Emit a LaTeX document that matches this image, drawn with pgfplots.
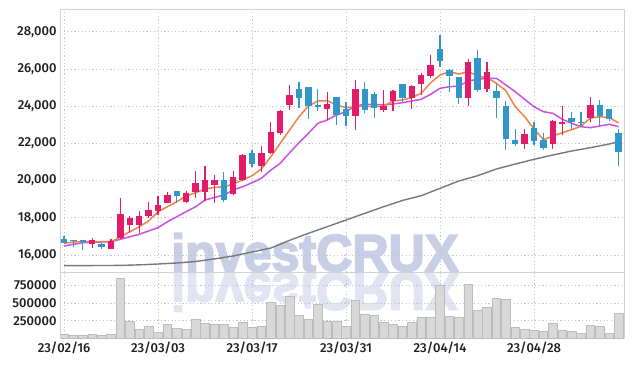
\documentclass[border=0pt]{standalone}
\usepackage{fontspec}
\setmainfont{Fira Sans Medium}
\newfontfamily\wmfont[FakeBold=3.5]{Liberation Sans Bold}
\usepackage{pgfplots}
\usepackage{pgfplotstable}
\pgfplotsset{compat=1.18}

\definecolor{cred}{RGB}{228,27,104}
\definecolor{cblue}{RGB}{51,150,200}
\definecolor{maorange}{RGB}{238,130,70}
\definecolor{mapurple}{RGB}{204,80,232}
\definecolor{magray}{RGB}{120,120,120}
\definecolor{gridc}{RGB}{190,194,218}
\definecolor{framec}{RGB}{210,210,212}
\definecolor{volfill}{RGB}{216,216,216}
\definecolor{voledge}{RGB}{188,188,188}
\definecolor{wm}{RGB}{200,206,228}
\definecolor{wmr}{RGB}{226,228,241}

% up candles (close >= open): i open high low close
\pgfplotstableread{
i o h l c
3 16600 16900 16360 16800
5 16340 16850 16300 16770
6 16900 19080 16850 18200
7 17630 18110 17170 17970
8 17630 18380 17180 18100
9 18110 18860 17970 18420
10 18380 19170 18150 18690
11 18810 19400 18780 19220
13 18830 19440 18800 19320
14 19400 20500 19050 19850
15 19400 20800 18900 20030
16 19760 20300 18780 20030
18 19280 20510 19200 20180
19 20030 21430 19990 21370
21 20800 21870 20480 21470
22 21500 23130 21450 22590
23 22590 23800 22450 23740
24 24060 25140 23790 24600
28 23860 24740 23260 24100
31 23490 25400 22720 24920
34 23790 24870 23700 24020
35 24290 24870 23760 24780
37 24420 25140 23830 25080
38 25190 25800 24600 25670
39 25620 26750 25500 26210
43 24450 26530 24010 26350
45 24920 26350 24740 25820
49 21970 22770 21700 22500
52 21970 23250 21700 23200
53 23080 24010 22450 23150
56 23350 24480 23160 24060
}\uptab

% down candles (close < open)
\pgfplotstableread{
i o h l c
0 16850 17000 16630 16650
1 16800 16820 16420 16760
2 16780 16800 16270 16740
4 16600 16630 16340 16430
12 19440 19440 18780 19190
17 20030 20440 18830 18960
20 21470 21640 20740 20890
25 24920 25320 23880 24450
26 25010 25010 23310 24010
27 24060 24900 23740 23970
29 24470 24470 22990 23520
30 23850 24210 22950 23490
32 24920 25280 23610 23790
33 24650 24780 23350 23910
36 25190 25190 24240 24420
40 27070 27820 26090 26440
41 25940 25990 24780 25640
42 25580 25580 24110 24450
44 26570 27020 24780 24870
46 24810 25170 23350 24450
47 24010 24290 21640 22230
48 22180 22770 21870 21970
50 22810 23160 21910 22140
51 22180 22540 21640 21770
54 23380 23670 22770 23130
55 23150 23670 22900 23110
57 24060 24330 22950 23490
58 23850 23850 23220 23310
59 22570 22760 20780 21520
}\downtab

\pgfplotstableread{
i v
0 16629
1 16699
2 16715
3 16715
4 16715
5 16715
6 16967
7 17252
8 17521
9 17827
10 18327
11 18596
12 18864
13 19171
14 19348
15 19547
16 19627
17 19670
18 19816
19 20031
20 20262
21 20622
22 21283
23 22003
24 22718
25 23432
26 24007
27 24276
28 24292
29 24061
30 23916
31 23970
32 24007
33 23970
34 24007
35 24276
36 24330
37 24464
38 24690
39 25260
40 25673
41 25851
42 25727
43 25851
44 25619
45 25528
46 25227
47 24829
48 23970
49 23432
50 22771
51 22196
52 22395
53 22572
54 22734
55 22916
56 23362
57 23432
58 23389
59 23094
}\maA

\pgfplotstableread{
i v
0 16484
1 16575
2 16661
3 16682
4 16699
5 16715
6 16844
7 16983
8 17112
9 17290
10 17467
11 17790
12 18058
13 18327
14 18596
15 18956
16 19090
17 19224
18 19493
19 19670
20 19885
21 20122
22 20568
23 20928
24 21498
25 22035
26 22540
27 23078
28 23255
29 23524
30 23701
31 24007
32 24099
33 24099
34 24061
35 24115
36 24185
37 24276
38 24367
39 24636
40 24958
41 25045
42 25082
43 25351
44 25442
45 25496
46 25496
47 25136
48 24776
49 24367
50 23970
51 23701
52 23615
53 23293
54 23078
55 22895
56 22841
57 22932
58 23024
59 22895
}\maB

\pgfplotstableread{
i v
0 15425
2 15430
4 15436
6 15440
8 15470
10 15516
12 15570
14 15650
16 15790
18 15946
20 16161
22 16376
24 16790
26 17166
28 17521
30 17881
32 18241
34 18596
36 18930
38 19187
40 19584
42 19977
44 20262
46 20622
48 20890
50 21143
52 21374
54 21589
56 21766
58 21965
59 22089
}\maC

\pgfplotstableread{
i v
0 60000
1 46000
2 46000
3 64000
4 46000
5 64000
6 847000
7 246000
8 132000
9 176000
10 92000
11 204000
12 148000
13 134000
14 272000
15 218000
16 204000
17 204000
18 160000
19 232000
20 162000
21 176000
22 512000
23 470000
24 594000
25 330000
26 274000
27 484000
28 240000
29 240000
30 176000
31 540000
32 344000
33 330000
34 230000
35 204000
36 176000
37 232000
38 302000
39 302000
40 750000
41 316000
42 302000
43 764000
44 400000
45 442000
46 568000
47 554000
48 162000
49 134000
50 120000
51 106000
52 218000
53 120000
54 106000
55 78000
56 190000
57 176000
58 78000
59 358000
}\voltab

\pgfplotsset{
  base/.style={
    scale only axis,
    width=564bp,
    xmin=-0.43, xmax=59.57,
    axis line style={draw=framec, line width=0.8bp},
    major tick length=0pt,
    grid=major,
    major grid style={draw=gridc, line width=0.6bp, dash pattern=on 1.2bp off 2.4bp},
    xtick={0,10,20,30,40,50},
    tick label style={font=\fontsize{13bp}{15bp}\selectfont, text=black!88},
    scaled y ticks=false,
    clip=true,
  },
  candle/.style 2 args={draw=none, mark=none, forget plot,
    error bars/.cd, y dir=both, y explicit, error mark=none,
    error bar style={draw=#1, line width=#2}},
}

\begin{document}
\begin{tikzpicture}
\useasboundingbox (0,0) rectangle (634bp,366bp);

% watermark
\node[anchor=base west, inner sep=0pt, text=wm, font=\wmfont\fontsize{52bp}{60bp}\selectfont] at (171bp,95bp) {\scalebox{0.965}[1]{investCRUX}};
\node[anchor=north west, inner sep=0pt, text=wmr, font=\wmfont\fontsize{52bp}{60bp}\selectfont] at (171bp,93bp) {\scalebox{0.965}[-1]{investCRUX}};

% price panel
\begin{axis}[base,
  at={(60bp,93.3bp)}, anchor=south west,
  height=263.4bp,
  ymin=15049, ymax=29204,
  ytick={16000,18000,...,28000},
  xticklabels={},
  yticklabel style={/pgf/number format/.cd, 1000 sep={,}, assume math mode=true},
]
\addplot[magray, line width=1.4bp] table[x=i, y=v] {\maC};
\addplot[mapurple, line width=1.5bp] table[x=i, y=v] {\maB};
\addplot[maorange, line width=1.5bp] table[x=i, y=v] {\maA};
% wicks
\addplot[candle={cred}{1.2bp}]
  table[x=i, y expr={(\thisrow{h}+\thisrow{l})/2}, y error expr={(\thisrow{h}-\thisrow{l})/2}] {\uptab};
\addplot[candle={cblue}{1.2bp}]
  table[x=i, y expr={(\thisrow{h}+\thisrow{l})/2}, y error expr={(\thisrow{h}-\thisrow{l})/2}] {\downtab};
% bodies
\addplot[candle={cred}{6.4bp}]
  table[x=i, y expr={(\thisrow{o}+\thisrow{c})/2}, y error expr={abs(\thisrow{c}-\thisrow{o})/2+8}] {\uptab};
\addplot[candle={cblue}{6.4bp}]
  table[x=i, y expr={(\thisrow{o}+\thisrow{c})/2}, y error expr={abs(\thisrow{c}-\thisrow{o})/2+8}] {\downtab};
\end{axis}

% volume panel
\begin{axis}[base,
  at={(60bp,27.4bp)}, anchor=south west,
  height=65.9bp,
  ymin=0, ymax=923000,
  ytick={250000,500000,750000},
  yticklabel style={/pgf/number format/.cd, 1000 sep={}, fixed, assume math mode=true},
  xticklabels={23/02/16,23/03/03,23/03/17,23/03/31,23/04/14,23/04/28},
]
\addplot[ybar, bar width=8.6bp, fill=volfill, draw=voledge, line width=0.6bp] table[x=i, y=v] {\voltab};
\end{axis}
\end{tikzpicture}
\end{document}
